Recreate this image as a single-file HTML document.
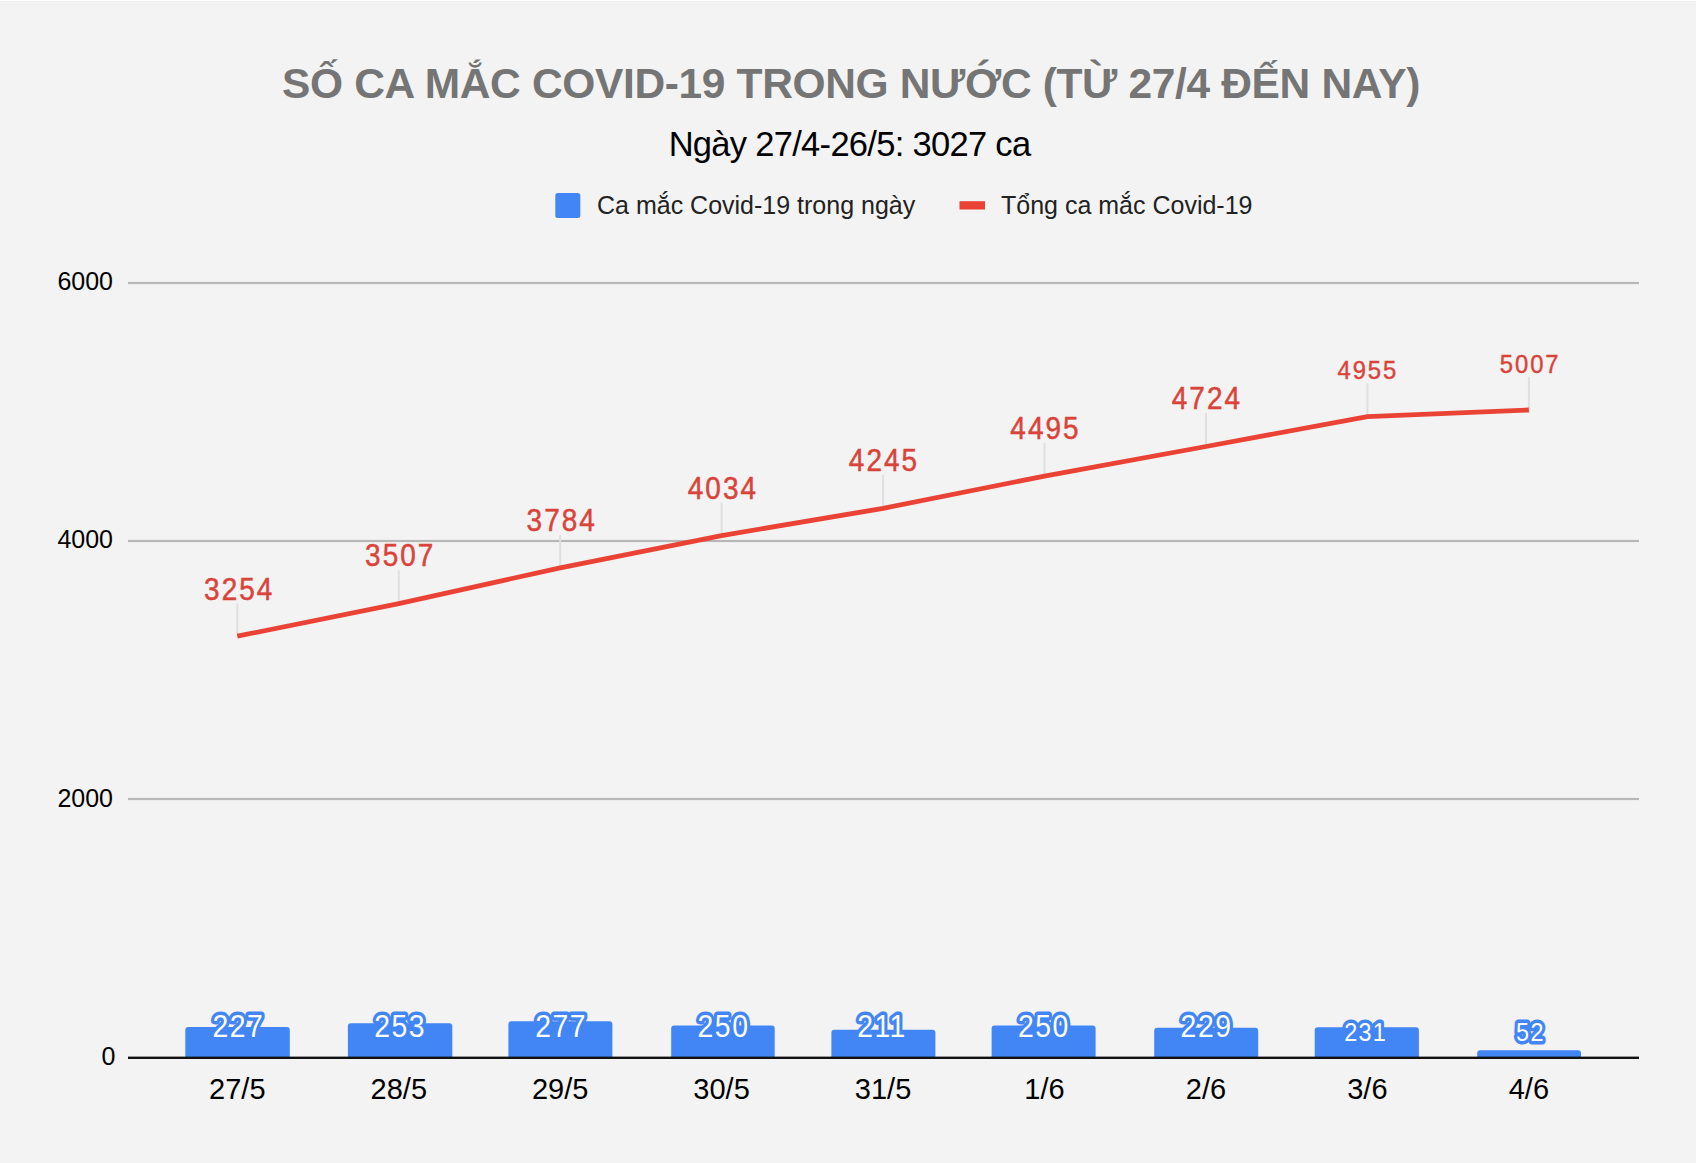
<!DOCTYPE html>
<html><head><meta charset="utf-8"><style>
html,body{margin:0;padding:0;background:#f3f3f3;}
svg{display:block;}
text{font-family:"Liberation Sans",sans-serif;}
.t{font-size:42.5px;font-weight:bold;fill:#757575;letter-spacing:-0.35px;}
.s{font-size:34.5px;fill:#000;letter-spacing:-0.7px;}
.l{font-size:25px;fill:#222;}
.y{font-size:25px;fill:#000;}
.x{font-size:29px;fill:#000;}
.ll{font-size:31px;fill:#d9443a;stroke:#d9443a;stroke-width:0.5px;letter-spacing:2.3px;}
.ls{font-size:26.5px;fill:#d9443a;stroke:#d9443a;stroke-width:0.45px;letter-spacing:2.1px;}
.bl{font-size:31.5px;fill:#fff;stroke:#4285f4;stroke-width:7px;letter-spacing:1.7px;paint-order:stroke;stroke-linejoin:round;}
.bs{font-size:26px;fill:#fff;stroke:#4285f4;stroke-width:7px;letter-spacing:1.5px;paint-order:stroke;stroke-linejoin:round;}
</style></head><body>
<svg width="1696" height="1163" viewBox="0 0 1696 1163">
<rect x="0" y="0" width="1696" height="1163" fill="#f3f3f3"/>
<rect x="0" y="0" width="1696" height="1" fill="#ffffff"/>
<rect x="0" y="1" width="1696" height="1" fill="#efefef"/>
<rect x="0" y="2" width="1696" height="1" fill="#f5f5f5"/>
<rect x="0" y="3" width="1696" height="1" fill="#f2f2f2"/>
<rect x="0" y="4" width="1696" height="1" fill="#efefef"/>
<rect x="0" y="5" width="1696" height="1" fill="#f5f5f5"/>
<rect x="0" y="6" width="1696" height="1" fill="#f0f0f0"/>
<text x="851" y="98" text-anchor="middle" class="t">SỐ CA MẮC COVID-19 TRONG NƯỚC (TỪ 27/4 ĐẾN NAY)</text>
<text x="849.5" y="156" text-anchor="middle" class="s">Ngày 27/4-26/5: 3027 ca</text>
<rect x="555.3" y="193" width="25" height="25" rx="2.5" fill="#4285f4"/>
<text x="597" y="214" class="l">Ca mắc Covid-19 trong ngày</text>
<rect x="959.5" y="201.2" width="25.5" height="8.3" fill="#ea4335"/>
<text x="1001" y="214" class="l">Tổng ca mắc Covid-19</text>
<rect x="128" y="281.9" width="1511" height="2.2" fill="#b7b7b7"/>
<rect x="128" y="539.9" width="1511" height="2.2" fill="#b7b7b7"/>
<rect x="128" y="797.9" width="1511" height="2.2" fill="#b7b7b7"/>
<text x="113" y="289.7" text-anchor="end" class="y">6000</text>
<text x="113" y="548" text-anchor="end" class="y">4000</text>
<text x="113" y="806.5" text-anchor="end" class="y">2000</text>
<text x="115.5" y="1064.7" text-anchor="end" class="y">0</text>
<path d="M185.3,1057.5 V1030.1 Q185.3,1027.1 188.3,1027.1 H286.8 Q289.8,1027.1 289.8,1030.1 V1057.5 Z" fill="#4285f4"/>
<path d="M347.9,1057.5 V1026.2 Q347.9,1023.2 350.9,1023.2 H449.3 Q452.3,1023.2 452.3,1026.2 V1057.5 Z" fill="#4285f4"/>
<path d="M508.4,1057.5 V1024.2 Q508.4,1021.2 511.4,1021.2 H609.4 Q612.4,1021.2 612.4,1024.2 V1057.5 Z" fill="#4285f4"/>
<path d="M671.2,1057.5 V1028.6 Q671.2,1025.6 674.2,1025.6 H771.7 Q774.7,1025.6 774.7,1028.6 V1057.5 Z" fill="#4285f4"/>
<path d="M831.4,1057.5 V1032.8 Q831.4,1029.8 834.4,1029.8 H932.4 Q935.4,1029.8 935.4,1032.8 V1057.5 Z" fill="#4285f4"/>
<path d="M991.6,1057.5 V1028.6 Q991.6,1025.6 994.6,1025.6 H1092.6 Q1095.6,1025.6 1095.6,1028.6 V1057.5 Z" fill="#4285f4"/>
<path d="M1154.2,1057.5 V1030.8 Q1154.2,1027.8 1157.2,1027.8 H1255.2 Q1258.2,1027.8 1258.2,1030.8 V1057.5 Z" fill="#4285f4"/>
<path d="M1314.7,1057.5 V1030.3 Q1314.7,1027.3 1317.7,1027.3 H1415.9 Q1418.9,1027.3 1418.9,1030.3 V1057.5 Z" fill="#4285f4"/>
<path d="M1477.2,1057.5 V1053.3 Q1477.2,1050.3 1480.2,1050.3 H1578.0 Q1581.0,1050.3 1581.0,1053.3 V1057.5 Z" fill="#4285f4"/>
<rect x="128" y="1056.6" width="1511" height="2.4" fill="#111111"/>
<rect x="236.3" y="603.5" width="2" height="30.7" fill="#dfdfdf"/>
<rect x="397.8" y="570.4" width="2" height="31.2" fill="#dfdfdf"/>
<rect x="559.2" y="535.0" width="2" height="30.8" fill="#dfdfdf"/>
<rect x="720.6" y="502.7" width="2" height="30.9" fill="#dfdfdf"/>
<rect x="882.1" y="475.0" width="2" height="31.3" fill="#dfdfdf"/>
<rect x="1043.5" y="443.0" width="2" height="31.1" fill="#dfdfdf"/>
<rect x="1205.0" y="413.0" width="2" height="31.5" fill="#dfdfdf"/>
<rect x="1366.4" y="383.4" width="2" height="31.3" fill="#dfdfdf"/>
<rect x="1527.9" y="376.9" width="2" height="31.1" fill="#dfdfdf"/>
<polyline points="237.3,636.2 398.8,603.6 560.2,567.8 721.6,535.6 883.1,508.3 1044.5,476.1 1206.0,446.5 1367.4,416.7 1528.9,410.0" fill="none" stroke="#ea4335" stroke-width="4.8" stroke-linejoin="round"/>
<text transform="translate(239.23,599.5) scale(0.9,1)" text-anchor="middle" class="ll">3254</text>
<text transform="translate(400.24,566.4) scale(0.9,1)" text-anchor="middle" class="ll">3507</text>
<text transform="translate(561.74,531.0) scale(0.9,1)" text-anchor="middle" class="ll">3784</text>
<text transform="translate(722.93,498.7) scale(0.9,1)" text-anchor="middle" class="ll">4034</text>
<text transform="translate(884.03,471.0) scale(0.9,1)" text-anchor="middle" class="ll">4245</text>
<text transform="translate(1045.54,439.0) scale(0.9,1)" text-anchor="middle" class="ll">4495</text>
<text transform="translate(1206.94,409.0) scale(0.9,1)" text-anchor="middle" class="ll">4724</text>
<text transform="translate(1367.85,379.4) scale(0.9,1)" text-anchor="middle" class="ls">4955</text>
<text transform="translate(1530.14,372.9) scale(0.9,1)" text-anchor="middle" class="ls">5007</text>
<text transform="translate(238.41,1037) scale(0.9,1)" text-anchor="middle" class="bl">227</text>
<text transform="translate(400.21,1037) scale(0.9,1)" text-anchor="middle" class="bl">253</text>
<text transform="translate(561.16,1037) scale(0.9,1)" text-anchor="middle" class="bl">277</text>
<text transform="translate(723.51,1037) scale(0.9,1)" text-anchor="middle" class="bl">250</text>
<text transform="translate(882.01,1037) scale(0.9,1)" text-anchor="middle" class="bl">211</text>
<text transform="translate(1043.92,1037) scale(0.9,1)" text-anchor="middle" class="bl">250</text>
<text transform="translate(1206.52,1037) scale(0.9,1)" text-anchor="middle" class="bl">229</text>
<text transform="translate(1365.67,1040.8) scale(0.9,1)" text-anchor="middle" class="bs">231</text>
<text transform="translate(1530.47,1040.8) scale(0.9,1)" text-anchor="middle" class="bs">52</text>
<text x="237.3" y="1098.8" text-anchor="middle" class="x">27/5</text>
<text x="398.8" y="1098.8" text-anchor="middle" class="x">28/5</text>
<text x="560.2" y="1098.8" text-anchor="middle" class="x">29/5</text>
<text x="721.6" y="1098.8" text-anchor="middle" class="x">30/5</text>
<text x="883.1" y="1098.8" text-anchor="middle" class="x">31/5</text>
<text x="1044.5" y="1098.8" text-anchor="middle" class="x">1/6</text>
<text x="1206.0" y="1098.8" text-anchor="middle" class="x">2/6</text>
<text x="1367.4" y="1098.8" text-anchor="middle" class="x">3/6</text>
<text x="1528.9" y="1098.8" text-anchor="middle" class="x">4/6</text>
</svg>
</body></html>
